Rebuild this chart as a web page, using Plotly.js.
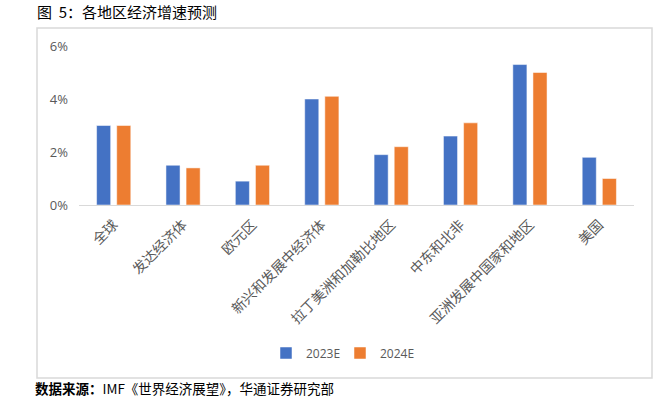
<!DOCTYPE html>
<html>
<head>
<meta charset="utf-8">
<script src="https://cdn.plot.ly/plotly-3.0.1.min.js"></script>
<style>html,body{margin:0;padding:0;background:#fff;}#chart{width:668px;height:397px;}</style>
</head>
<body>
<div id="chart"></div>
<script>
const categories = ['全球','发达经济体','欧元区','新兴和发展中经济体','拉丁美洲和加勒比地区','中东和北非','亚洲发展中国家和地区','美国'];
const values2023 = [3.0, 1.5, 0.9, 4.0, 1.9, 2.6, 5.3, 1.8];
const values2024 = [3.0, 1.4, 1.5, 4.1, 2.2, 3.1, 5.0, 1.0];
const seriesNames = ['2023E', '2024E'];
const yTickVals = [0, 2, 4, 6];
const yTickText = ['0%', '2%', '4%', '6%'];

const W = 668, H = 397;
const L = 79, R = 634, T = 46, B = 205;
const px = x => (x - L) / (R - L);
const py = y => (B - y) / (B - T);

const cjk = '"Noto Sans CJK SC", "Noto Sans", sans-serif';
const grey = '#595959';
const legFont = {family: '"Open Sans", "Noto Sans", sans-serif', size: 12, color: grey};

const traces = [
  {type:'bar', name:seriesNames[0], x:categories, y:values2023, legend:'legend', marker:{color:'#4472C4', line:{color:'#ffffff', width:0.5}}, hoverinfo:'none'},
  {type:'bar', name:seriesNames[1], x:categories, y:values2024, legend:'legend2', marker:{color:'#ED7D31', line:{color:'#ffffff', width:0.5}}, hoverinfo:'none'}
];

const layout = {
  width: W, height: H,
  margin: {l: L, r: W - R, t: T, b: H - B, pad: 0},
  paper_bgcolor: '#ffffff', plot_bgcolor: '#ffffff',
  barmode: 'group', bargap: 0.42, bargroupgap: 0.3,
  font: {family: cjk, color: grey, size: 12},
  showlegend: true,
  legend: {orientation: 'h', x: px(266), xanchor: 'left', y: py(353), yanchor: 'middle', font: legFont, itemwidth: 30, bgcolor: 'rgba(0,0,0,0)'},
  legend2: {orientation: 'h', x: px(340), xanchor: 'left', y: py(353), yanchor: 'middle', font: legFont, itemwidth: 30, bgcolor: 'rgba(0,0,0,0)'},
  xaxis: {
    type: 'category', tickangle: -45, showline: true, linecolor: '#d9d9d9', linewidth: 1,
    ticks: '', showgrid: false, zeroline: false, fixedrange: true,
    tickfont: {family: cjk, size: 14, color: grey}, ticklabelstandoff: 5
  },
  yaxis: {
    range: [0, 6], tickmode: 'array', tickvals: yTickVals, ticktext: yTickText, showgrid: false, zeroline: false,
    showline: false, ticks: '', fixedrange: true, ticklabelstandoff: 10,
    tickfont: {family: '"Open Sans", "Noto Sans", sans-serif', size: 13, color: grey}
  },
  title: {
    text: '图&nbsp;&nbsp;5：各地区经济增速预测', xref: 'container', yref: 'container',
    x: 37 / W, xanchor: 'left', y: 1 - 13 / H, yanchor: 'middle',
    font: {family: cjk, size: 15, color: '#000000'}
  },
  shapes: [
    {type: 'rect', xref: 'paper', yref: 'paper', x0: px(37), x1: px(652), y0: py(378), y1: py(28),
     line: {color: '#d9d9d9', width: 1.5}, fillcolor: 'rgba(0,0,0,0)', layer: 'below'}
  ],
  annotations: [
    {xref: 'paper', yref: 'paper', x: px(33), y: py(388), xanchor: 'left', yanchor: 'middle', showarrow: false,
     text: '<b>数据来源：</b>IMF《世界经济展望》，华通证券研究部',
     font: {family: cjk, size: 13.5, color: '#000000'}}
  ]
};

Plotly.newPlot('chart', traces, layout, {displayModeBar: false, staticPlot: true});
</script>
</body>
</html>
